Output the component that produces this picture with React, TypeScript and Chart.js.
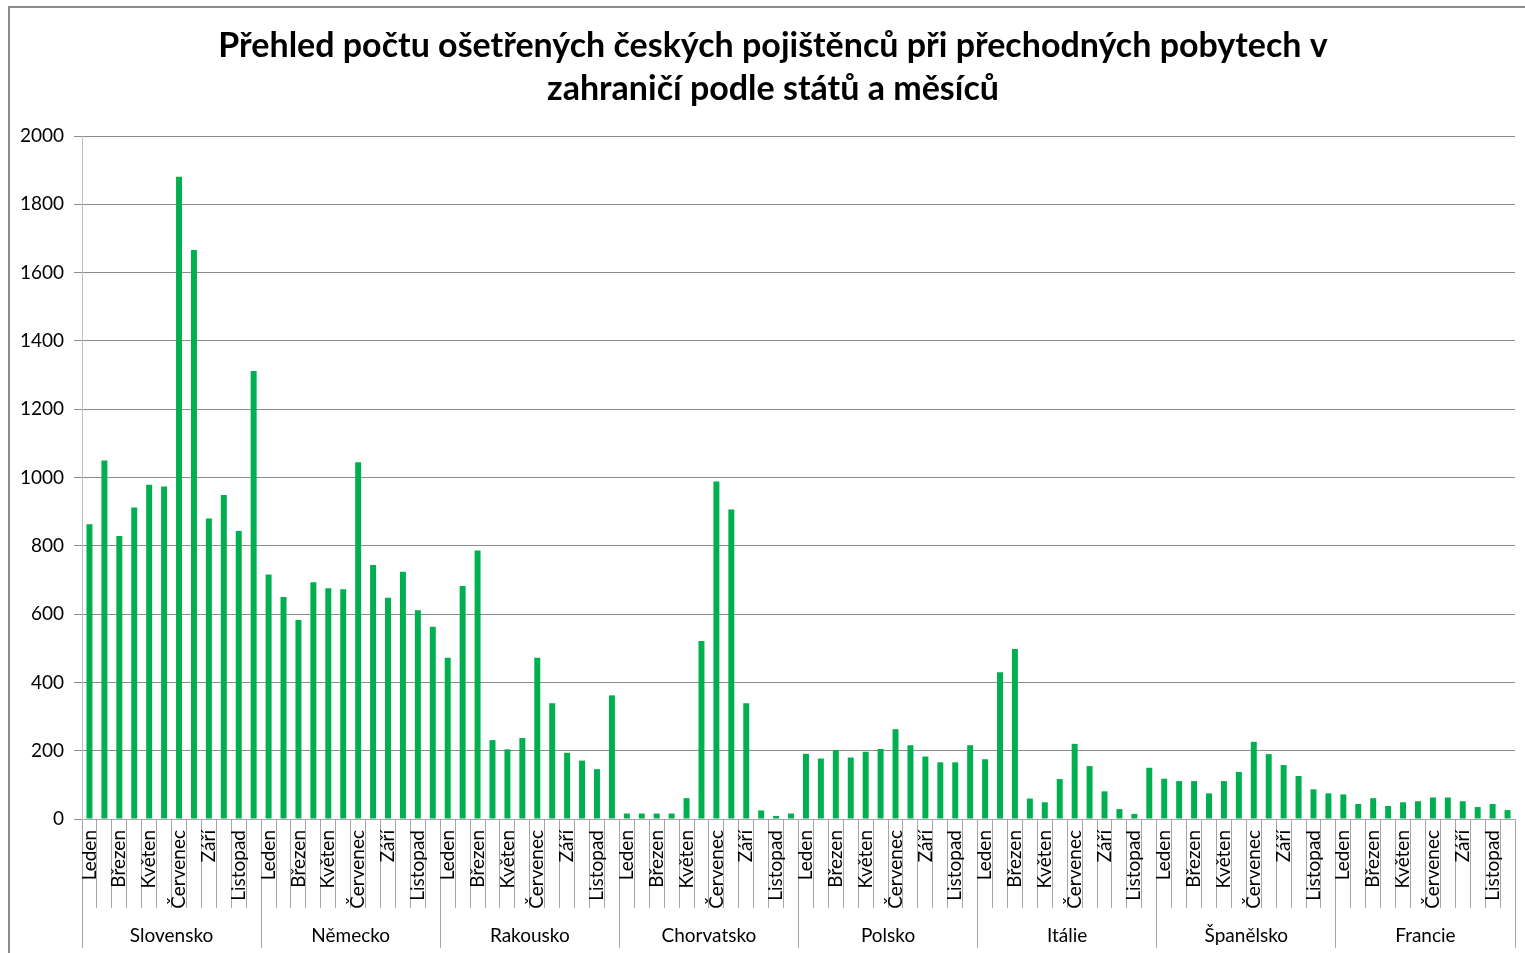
import React, { useEffect, useRef } from 'react';
import { Chart, registerables } from 'chart.js';

Chart.register(...registerables);

const TITLE_LINES = [
  'Přehled počtu ošetřených českých pojištěnců při přechodných pobytech v',
  'zahraničí podle států a měsíců',
];

const MONTHS = [
  'Leden', 'Únor', 'Březen', 'Duben', 'Květen', 'Červen',
  'Červenec', 'Srpen', 'Září', 'Říjen', 'Listopad', 'Prosinec',
];

const COUNTRIES = [
  'Slovensko', 'Německo', 'Rakousko', 'Chorvatsko',
  'Polsko', 'Itálie', 'Španělsko', 'Francie',
];

const SLOVENSKO = [863, 1050, 829, 912, 979, 974, 1881, 1666, 880, 949, 843, 1312];
const NEMECKO = [716, 650, 583, 693, 676, 673, 1045, 744, 648, 724, 611, 563];
const RAKOUSKO = [472, 682, 786, 231, 204, 237, 472, 339, 194, 171, 146, 362];
const CHORVATSKO = [16, 16, 16, 16, 61, 521, 988, 906, 339, 25, 9, 16];
const POLSKO = [191, 177, 202, 180, 197, 205, 263, 216, 183, 166, 166, 216];
const ITALIE = [175, 430, 498, 60, 49, 117, 220, 155, 81, 29, 15, 150];
const SPANELSKO = [118, 111, 111, 75, 111, 138, 226, 190, 158, 126, 87, 75];
const FRANCIE = [72, 44, 61, 38, 49, 52, 63, 63, 52, 35, 44, 26];

const Y_MIN = 0;
const Y_MAX = 2000;
const Y_STEP = 200;

const FONT = 'Lato';

export default function App() {
  const ref = useRef<HTMLCanvasElement | null>(null);

  useEffect(() => {
    if (!ref.current) return;
    const series = [SLOVENSKO, NEMECKO, RAKOUSKO, CHORVATSKO, POLSKO, ITALIE, SPANELSKO, FRANCIE];
    const labels = COUNTRIES.flatMap(() => MONTHS);
    const values = series.flat();

    const titlePlugin = {
      id: 'excelTitle',
      afterDraw(chart: any) {
        const ctx = chart.ctx as CanvasRenderingContext2D;
        ctx.save();
        ctx.font = `bold 34px ${FONT}`;
        ctx.fillStyle = '#000';
        ctx.textAlign = 'center';
        ctx.textBaseline = 'middle';
        TITLE_LINES.forEach((t, i) => ctx.fillText(t, 773, 46 + i * 43));
        ctx.restore();
      },
    };

    const chart = new Chart(ref.current, {
      type: 'bar',
      data: {
        labels,
        datasets: [
          {
            data: values,
            backgroundColor: '#00B050',
            borderWidth: 0,
            barPercentage: 0.4,
            categoryPercentage: 1,
            xAxisID: 'x',
            yAxisID: 'y',
          },
        ],
      },
      options: {
        responsive: false,
        animation: false,
        devicePixelRatio: 1,
        layout: { padding: { left: 10, right: 10, top: 136, bottom: 5 } },
        plugins: {
          legend: { display: false },
          tooltip: { enabled: false },
          title: { display: false },
        },
        scales: {
          x: {
            type: 'category',
            position: 'bottom',
            weight: 0,
            offset: true,
            grid: {
              offset: true,
              drawOnChartArea: false,
              drawTicks: true,
              tickLength: 89,
              color: '#a6a6a6',
              lineWidth: 1,
            },
            border: { display: true, color: '#a6a6a6' },
            ticks: {
              autoSkip: false,
              maxRotation: 90,
              minRotation: 90,
              padding: -78,
              font: { family: FONT, size: 19 },
              color: '#000',
              callback: (_v: any, i: number) => (i % 2 === 0 ? labels[i] : ''),
            },
            afterFit: (s: any) => {
              s.height = 89;
            },
          },
          x2: {
            type: 'category',
            position: 'bottom',
            weight: 1,
            labels: COUNTRIES,
            offset: true,
            grid: {
              offset: true,
              drawOnChartArea: false,
              tickLength: 40,
              color: '#a6a6a6',
              lineWidth: 1,
            },
            border: { display: false },
            ticks: {
              autoSkip: false,
              maxRotation: 0,
              minRotation: 0,
              padding: -24,
              font: { family: FONT, size: 19 },
              color: '#000',
            },
            afterFit: (s: any) => {
              s.height = 40;
            },
          },
          y: {
            min: Y_MIN,
            max: Y_MAX,
            ticks: {
              stepSize: Y_STEP,
              padding: 10,
              font: { family: FONT, size: 19 },
              color: '#000',
              callback: (v: any) => String(v),
            },
            grid: { color: '#8c8c8c', tickLength: 8, lineWidth: 1 },
            border: { color: '#bfbfbf' },
            afterFit: (s: any) => {
              s.width = 72;
            },
          },
        },
      } as any,
      plugins: [titlePlugin],
    });

    return () => chart.destroy();
  }, []);

  return (
    <div
      style={{
        position: 'fixed',
        left: 0,
        top: 0,
        width: 1525,
        height: 953,
        overflow: 'hidden',
        background: '#fff',
      }}
    >
      <div
        style={{
          position: 'absolute',
          left: 8,
          top: 6,
          width: 1600,
          height: 1100,
          border: '2px solid #8c8c8c',
          boxSizing: 'border-box',
        }}
      />
      <canvas
        ref={ref}
        width={1525}
        height={953}
        style={{ position: 'absolute', left: 0, top: 0, width: 1525, height: 953 }}
      />
    </div>
  );
}
